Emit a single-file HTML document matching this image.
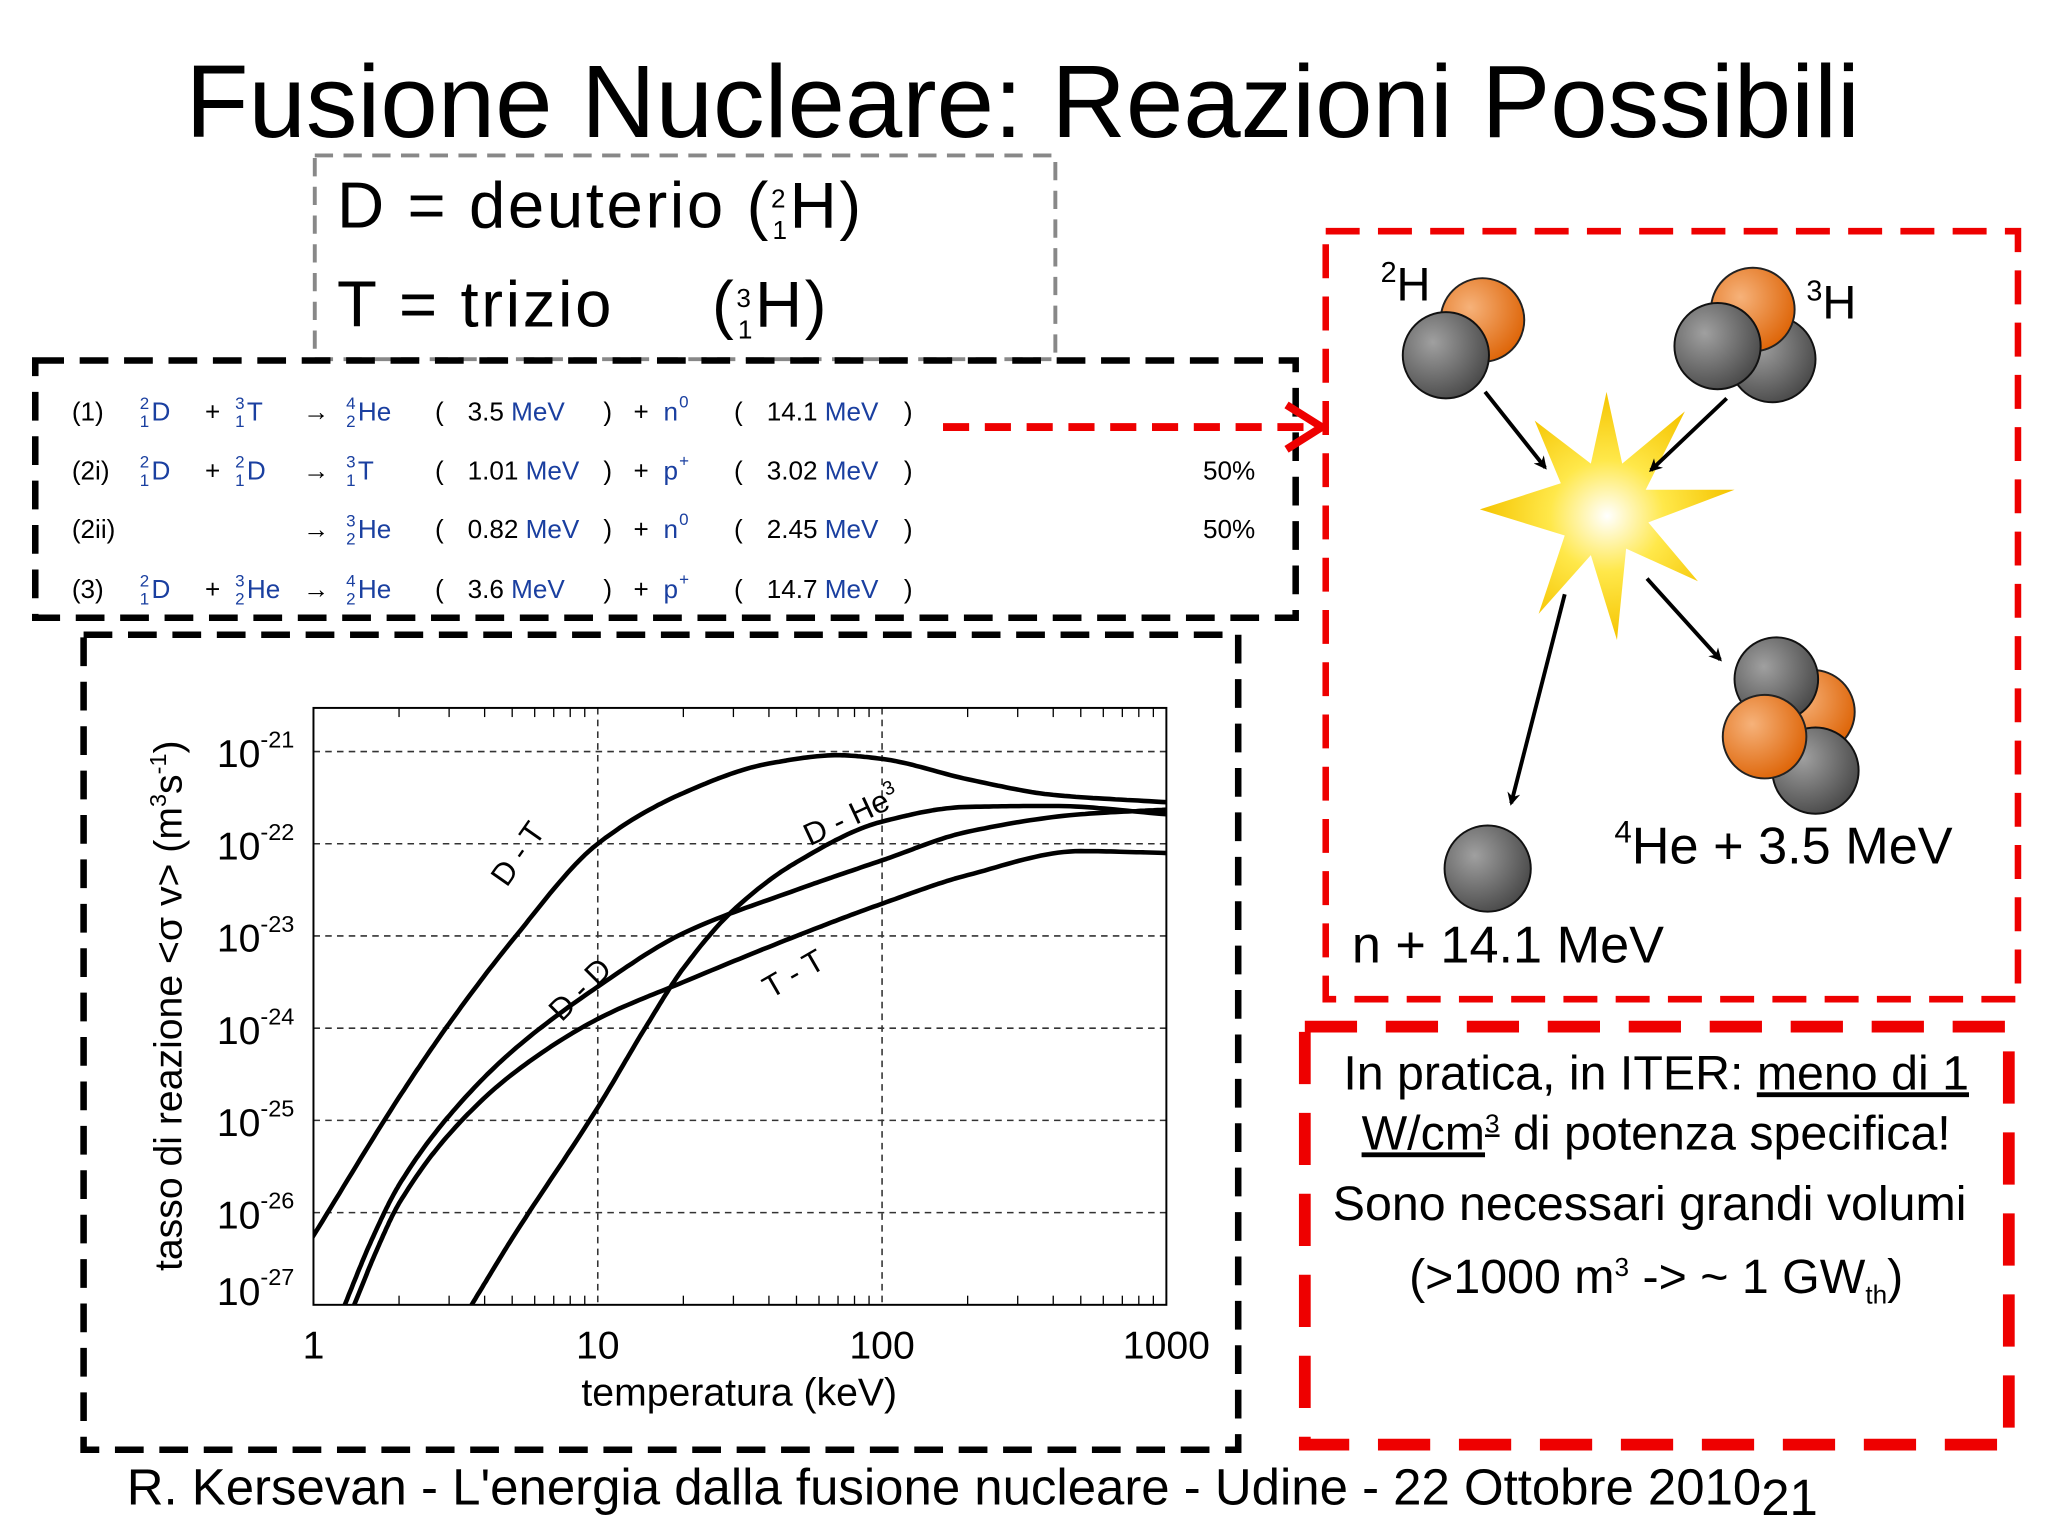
<!DOCTYPE html>
<html><head><meta charset="utf-8"><style>
html,body{margin:0;padding:0;background:#fff;}
svg{display:block;}
text{font-family:"Liberation Sans",sans-serif;}
</style></head><body>
<svg id="root" width="2048" height="1536" viewBox="0 0 1568 1176" xmlns="http://www.w3.org/2000/svg">
<defs>
<radialGradient id="gray" cx="0.35" cy="0.35" r="0.7"><stop offset="0" stop-color="#a0a0a0"/><stop offset="1" stop-color="#4a4a4a"/></radialGradient>
<radialGradient id="orng" cx="0.35" cy="0.35" r="0.7"><stop offset="0" stop-color="#f6b27a"/><stop offset="1" stop-color="#de6508"/></radialGradient>
<radialGradient id="star" cx="0.5" cy="0.5" r="0.5"><stop offset="0" stop-color="#ffffff"/><stop offset="0.45" stop-color="#ffe84a"/><stop offset="1" stop-color="#f5c400"/></radialGradient>
<marker id="ah" markerWidth="10" markerHeight="10" refX="8" refY="5" orient="auto" markerUnits="userSpaceOnUse"><path d="M0,0 L10,5 L0,10 L3,5 Z" fill="#000"/></marker>
<clipPath id="plotclip"><rect x="240" y="542" width="653" height="457"/></clipPath>
</defs>

<text x="783" y="105" font-size="79" text-anchor="middle">Fusione Nucleare: Reazioni Possibili</text>

<rect x="241" y="119" width="567" height="156" fill="none" stroke="#888" stroke-width="3" stroke-dasharray="14,8"/>
<text x="258" y="174" font-size="50" letter-spacing="2">D = deuterio (<tspan font-size="20" dy="-15">2</tspan><tspan font-size="20" dx="-12" dy="24">1</tspan><tspan dy="-9">H)</tspan></text>
<text x="258" y="250" font-size="50" letter-spacing="2">T = trizio<tspan dx="75">(</tspan><tspan font-size="20" dy="-15">3</tspan><tspan font-size="20" dx="-12" dy="24">1</tspan><tspan dy="-9">H)</tspan></text>

<rect x="27" y="276" width="965" height="197" fill="none" stroke="#000" stroke-width="5" stroke-dasharray="22,12"/>
<g id="reactions" font-size="20"></g>

<g>
<line x1="722" y1="327" x2="1005" y2="327" stroke="#e00" stroke-width="6" stroke-dasharray="20,12"/>
<polyline points="985,310 1012,327 985,344" fill="none" stroke="#e00" stroke-width="6"/>
</g>

<rect x="64" y="486" width="884" height="624" fill="none" stroke="#000" stroke-width="5" stroke-dasharray="22,12"/>
<g id="chart"></g>

<rect x="1015" y="177" width="530" height="588" fill="none" stroke="#e00" stroke-width="5" stroke-dasharray="26,14"/>
<g>
<circle cx="1135" cy="245" r="32" fill="url(#orng)" stroke="#222" stroke-width="1.5"/>
<circle cx="1107" cy="272" r="33" fill="url(#gray)" stroke="#111" stroke-width="1.5"/>
<circle cx="1357" cy="275" r="33" fill="url(#gray)" stroke="#111" stroke-width="1.5"/>
<circle cx="1342" cy="237" r="32" fill="url(#orng)" stroke="#222" stroke-width="1.5"/>
<circle cx="1315" cy="265" r="33" fill="url(#gray)" stroke="#111" stroke-width="1.5"/>
<text x="1057" y="230" font-size="36"><tspan font-size="22" dy="-14">2</tspan><tspan dy="14">H</tspan></text>
<text x="1383" y="244" font-size="36"><tspan font-size="22" dy="-14">3</tspan><tspan dy="14">H</tspan></text>
<polygon points="1230,300 1242,355 1290,315 1260,375 1328,375 1262,400 1300,445 1245,420 1238,490 1218,425 1178,470 1198,410 1133,390 1195,370 1175,322 1218,355" fill="url(#star)"/>
<line x1="1137" y1="300" x2="1183" y2="358" stroke="#000" stroke-width="3" marker-end="url(#ah)"/>
<line x1="1322" y1="305" x2="1264" y2="360" stroke="#000" stroke-width="3" marker-end="url(#ah)"/>
<line x1="1261" y1="443" x2="1317" y2="505" stroke="#000" stroke-width="3" marker-end="url(#ah)"/>
<line x1="1198" y1="455" x2="1157" y2="615" stroke="#000" stroke-width="3" marker-end="url(#ah)"/>
<circle cx="1388" cy="545" r="32" fill="url(#orng)" stroke="#222" stroke-width="1.5"/>
<circle cx="1360" cy="520" r="32" fill="url(#gray)" stroke="#111" stroke-width="1.5"/>
<circle cx="1390" cy="590" r="33" fill="url(#gray)" stroke="#111" stroke-width="1.5"/>
<circle cx="1351" cy="564" r="32" fill="url(#orng)" stroke="#222" stroke-width="1.5"/>
<circle cx="1139" cy="665" r="33" fill="url(#gray)" stroke="#111" stroke-width="1.5"/>
<text x="1236" y="661" font-size="40"><tspan font-size="24" dy="-16">4</tspan><tspan dy="16">He + 3.5 MeV</tspan></text>
<text x="1035" y="737" font-size="40">n + 14.1 MeV</text>
</g>

<rect x="999" y="786" width="539" height="320" fill="none" stroke="#e00" stroke-width="9" stroke-dasharray="40,22"/>
<g font-size="37" text-anchor="middle">
<text x="1268" y="834">In pratica, in ITER: <tspan text-decoration="underline">meno di 1</tspan></text>
<text x="1268" y="880"><tspan text-decoration="underline">W/cm<tspan font-size="20" dy="-13">3</tspan></tspan><tspan dy="13"> di potenza specifica!</tspan></text>
<text x="1263" y="934">Sono necessari grandi volumi</text>
<text x="1268" y="990">(&gt;1000 m<tspan font-size="20" dy="-13">3</tspan><tspan dy="13"> -&gt; ~ 1 GW</tspan><tspan font-size="20" dy="8">th</tspan><tspan dy="-8">)</tspan></text>
</g>

<text x="97" y="1152" font-size="39">R. Kersevan - L'energia dalla fusione nucleare - Udine - 22 Ottobre 2010<tspan dy="8">21</tspan></text>
</svg>
<script>
const NS='http://www.w3.org/2000/svg';
// ---------- reactions ----------
const reactionIds=['(1)','(2i)','(2ii)','(3)'];
const reactionEnergy1=['3.5','1.01','0.82','3.6'];
const reactionEnergy2=['14.1','3.02','2.45','14.7'];
const reactionParticle=['n','p','n','p'];
const reactionPct=['','50%','50%',''];
const tbl=document.getElementById('reactions');
const BLUE='#1a3fa0';
function t(x,y,s,fill,size){const e=document.createElementNS(NS,'text');e.setAttribute('x',x);e.setAttribute('y',y);e.textContent=s;e.setAttribute('fill',fill||'#000');if(size)e.setAttribute('font-size',size);tbl.appendChild(e);return e;}
function nuc(x,y,a,z,s){t(x,y-9,a,BLUE,13);t(x,y+5,z,BLUE,13);t(x+9,y,s,BLUE);}
function energy(x,y,v){const e=t(x,y,v+' ');const m=document.createElementNS(NS,'tspan');m.setAttribute('fill',BLUE);m.textContent='MeV';e.appendChild(m);}
const rowY=[322,367,412,458];
for(let i=0;i<4;i++){
  const y=rowY[i];
  t(55,y,reactionIds[i]);
  if(i===0){nuc(107,y,'2','1','D');t(157,y,'+');nuc(180,y,'3','1','T');t(232,y,'→');nuc(265,y,'4','2','He');}
  if(i===1){nuc(107,y,'2','1','D');t(157,y,'+');nuc(180,y,'2','1','D');t(232,y,'→');nuc(265,y,'3','1','T');}
  if(i===2){t(232,y,'→');nuc(265,y,'3','2','He');}
  if(i===3){nuc(107,y,'2','1','D');t(157,y,'+');nuc(180,y,'3','2','He');t(232,y,'→');nuc(265,y,'4','2','He');}
  t(333,y,'(');energy(358,y,reactionEnergy1[i]);t(462,y,')');t(485,y,'+');
  t(508,y,reactionParticle[i],BLUE);t(520,y-10,reactionParticle[i]==='n'?'0':'+',BLUE,13);
  t(562,y,'(');energy(587,y,reactionEnergy2[i]);t(692,y,')');
  if(reactionPct[i])t(921,y,reactionPct[i]);
}
// ---------- chart ----------
const tempsDT=[1,2,3,5,10,20,40,70,100,200,400,1000];
const valsDT=[-26.25,-24.75,-23.95,-23.05,-22.0,-21.45,-21.13,-21.04,-21.08,-21.3,-21.47,-21.55];
const tempsDHe=[3.6,5,10,15,20,30,50,100,200,400,1000];
const valsDHe=[-27.0,-26.28,-24.86,-23.95,-23.35,-22.72,-22.2,-21.76,-21.6,-21.59,-21.68];
const tempsDD=[1.25,1.6,2,3,5,10,20,50,100,200,500,1000];
const valsDD=[-27.1,-26.3,-25.7,-24.95,-24.25,-23.55,-22.97,-22.5,-22.18,-21.87,-21.68,-21.63];
const tempsTT=[1.35,1.7,2,3,5,10,20,50,100,200,500,1000];
const valsTT=[-27.1,-26.35,-25.9,-25.15,-24.5,-23.9,-23.5,-23.0,-22.65,-22.34,-22.08,-22.1];
const xTicks=[1,10,100,1000];
const yTickExp=[-21,-22,-23,-24,-25,-26,-27];
const PL=240,PR=893,PT=542,PB=999;
function xs(T){return PL+(Math.log10(T))/3*(PR-PL);}
function ys(l){return 999-(l+27)*70.6;}
const ch=document.getElementById('chart');
function el(tag,attrs,parent){const e=document.createElementNS(NS,tag);for(const k in attrs)e.setAttribute(k,attrs[k]);(parent||ch).appendChild(e);return e;}
yTickExp.forEach(p=>{if(p>-27){const g=el('line',{x1:PL,x2:PR,y1:ys(p),y2:ys(p),stroke:'#333','stroke-width':1.2,'stroke-dasharray':'5,4'});

}});
[10,100].forEach(v=>{const g=el('line',{x1:xs(v),x2:xs(v),y1:PT,y2:PB,stroke:'#333','stroke-width':1.2,'stroke-dasharray':'5,4'});

});
for(let d=0;d<3;d++)for(let m=2;m<=9;m++){const x=xs(Math.pow(10,d)*m);
el('line',{x1:x,x2:x,y1:PB,y2:PB-7,stroke:'#000','stroke-width':1});
el('line',{x1:x,x2:x,y1:PT,y2:PT+7,stroke:'#000','stroke-width':1});}
const frame=el('rect',{x:PL,y:PT,width:PR-PL,height:PB-PT,fill:'none',stroke:'#000','stroke-width':1.5});


xTicks.forEach(v=>{const e=el('text',{x:xs(v),y:1040,'font-size':30,'text-anchor':'middle'});e.textContent=String(v);

});
yTickExp.forEach(p=>{const e=el('text',{x:166,y:ys(p)+(p===-27?0:12),'font-size':30});e.textContent='10';
const s=el('tspan',{'font-size':18,dy:-15},e);s.textContent=String(p);

});
const xt=el('text',{x:566,y:1076,'font-size':30,'text-anchor':'middle'});xt.textContent='temperatura (keV)';


const yt=el('text',{x:0,y:0,'font-size':30,'text-anchor':'middle',transform:'translate(139,770) rotate(-90)'});
yt.textContent='tasso di reazione <σ v> (m';
const s1=el('tspan',{'font-size':18,dy:-12},yt);s1.textContent='3';
const s2=el('tspan',{dy:12},yt);s2.textContent='s';
const s3=el('tspan',{'font-size':18,dy:-12},yt);s3.textContent='-1';
const s4=el('tspan',{dy:12},yt);s4.textContent=')';


const cg=el('g',{'clip-path':'url(#plotclip)'});
function curve(T,V,name){
  const X=T.map(v=>Math.log10(v)), n=X.length;
  const sec=[];for(let i=0;i<n-1;i++)sec.push((V[i+1]-V[i])/(X[i+1]-X[i]));
  const m=[];for(let i=0;i<n;i++){
    if(i===0)m.push(sec[0]);else if(i===n-1)m.push(sec[n-2]);
    else{const a=sec[i-1],b=sec[i];m.push(a*b<=0?0:2/(1/a+1/b));}
  }
  const pts=[];
  const x0=X[0]-0.05; pts.push([x0,V[0]-sec[0]*0.05]);
  for(let i=0;i<n-1;i++){const h=X[i+1]-X[i];
    for(let k=0;k<20;k++){const s=k/20,h00=2*s*s*s-3*s*s+1,h10=s*s*s-2*s*s+s,h01=-2*s*s*s+3*s*s,h11=s*s*s-s*s;
      pts.push([X[i]+s*h, h00*V[i]+h10*h*m[i]+h01*V[i+1]+h11*h*m[i+1]]);}}
  pts.push([X[n-1],V[n-1]]);
  const d='M'+pts.map(p=>(PL+p[0]/3*(PR-PL)).toFixed(1)+','+ys(p[1]).toFixed(1)).join(' L');
  const p=el('path',{d:d,fill:'none',stroke:'#000','stroke-width':3.5,'stroke-linejoin':'round'},cg);
  
  
}
curve(tempsDT,valsDT,'curve-d-t');
curve(tempsDHe,valsDHe,'curve-d-he3');
curve(tempsDD,valsDD,'curve-d-d');
curve(tempsTT,valsTT,'curve-t-t');
function lbl(x,y,r,s,name,sup){const e=el('text',{x:0,y:0,'font-size':24,transform:'translate('+x+','+y+') rotate('+r+')'});e.textContent=s;
if(sup){const q=el('tspan',{'font-size':15,dy:-10},e);q.textContent=sup;}

}
lbl(388,680,-55,'D - T','label-d-t');
lbl(620,648,-25,'D - He','label-d-he3','3');
lbl(430,783,-45,'D - D','label-d-d');
lbl(590,765,-30,'T - T','label-t-t');
</script>
</body></html>
